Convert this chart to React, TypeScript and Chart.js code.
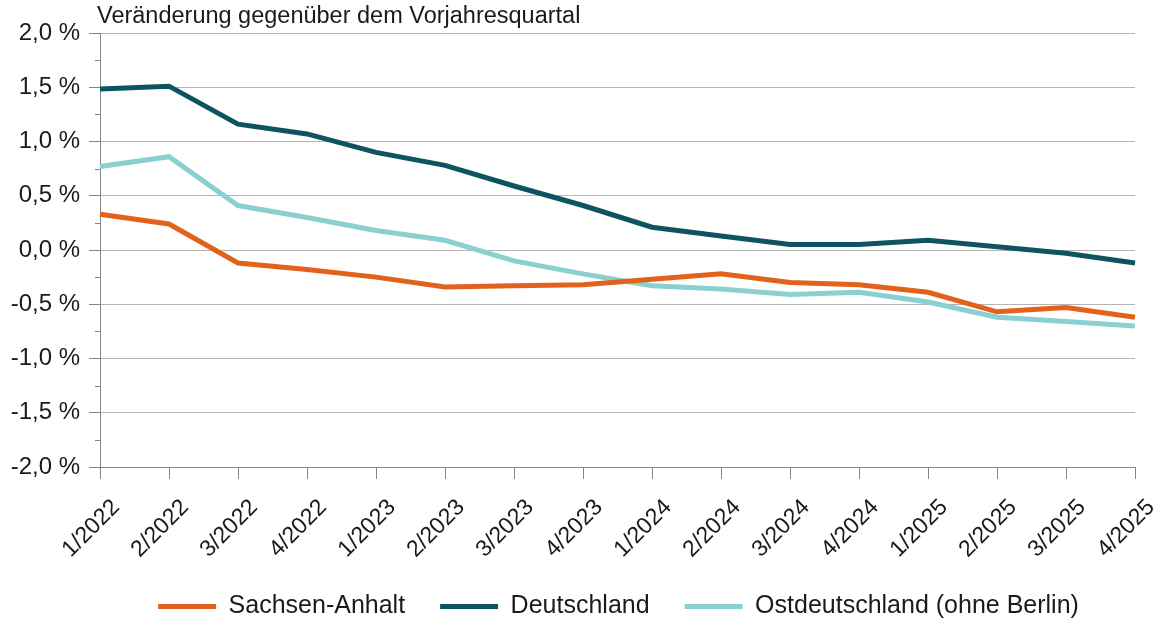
import React, { useEffect, useRef } from "react";
import { Chart, registerables } from "chart.js";

Chart.register(...registerables);

const categories = [
  "1/2022", "2/2022", "3/2022", "4/2022",
  "1/2023", "2/2023", "3/2023", "4/2023",
  "1/2024", "2/2024", "3/2024", "4/2024",
  "1/2025", "2/2025", "3/2025", "4/2025",
];

const sachsenAnhalt = [0.33, 0.24, -0.12, -0.18, -0.25, -0.34, -0.33, -0.32, -0.27, -0.22, -0.30, -0.32, -0.39, -0.57, -0.53, -0.62];
const deutschland = [1.485, 1.51, 1.16, 1.07, 0.90, 0.78, 0.59, 0.41, 0.21, 0.13, 0.05, 0.05, 0.09, 0.03, -0.03, -0.12];
const ostdeutschland = [0.77, 0.86, 0.41, 0.30, 0.18, 0.09, -0.10, -0.22, -0.33, -0.36, -0.41, -0.39, -0.48, -0.62, -0.66, -0.70];

const seriesNames = ["Sachsen-Anhalt", "Deutschland", "Ostdeutschland (ohne Berlin)"];
const titleText = "Veränderung gegenüber dem Vorjahresquartal";

const FONT = "'Liberation Sans', Arial, sans-serif";
const GRID = "#b4b4b4";
const AXIS = "#868686";

const isMajor = (v: number) => Math.abs(v * 2 - Math.round(v * 2)) < 1e-6;

const extrasPlugin = {
  id: "extras",
  afterLayout(chart: any) {
    const lg = chart.legend;
    if (lg) {
      lg.left += 51;
      lg.right += 51;
    }
  },
  afterDraw(chart: any) {
    const { ctx, chartArea } = chart;
    const y = chart.scales.y;
    ctx.save();
    ctx.strokeStyle = AXIS;
    ctx.lineWidth = 1;
    y.ticks.forEach((t: any) => {
      if (!isMajor(t.value)) {
        const py = Math.round(y.getPixelForValue(t.value)) + 0.5;
        ctx.beginPath();
        ctx.moveTo(chartArea.left - 5, py);
        ctx.lineTo(chartArea.left, py);
        ctx.stroke();
      }
    });
    ctx.fillStyle = "#1a1a1a";
    ctx.font = `23.5px ${FONT}`;
    ctx.textAlign = "left";
    ctx.textBaseline = "middle";
    ctx.fillText(titleText, chartArea.left - 3, 17);
    ctx.restore();
  },
};

export default function App() {
  const ref = useRef<HTMLCanvasElement | null>(null);

  useEffect(() => {
    document.body.style.margin = "0";
    const canvas = ref.current;
    if (!canvas) return;
    const chart = new Chart(canvas, {
      type: "line",
      data: {
        labels: categories,
        datasets: [
          { label: seriesNames[0], data: sachsenAnhalt, borderColor: "#E2621B", backgroundColor: "#E2621B", borderWidth: 5, pointRadius: 0, tension: 0 },
          { label: seriesNames[1], data: deutschland, borderColor: "#0D5460", backgroundColor: "#0D5460", borderWidth: 5, pointRadius: 0, tension: 0 },
          { label: seriesNames[2], data: ostdeutschland, borderColor: "#8AD0D0", backgroundColor: "#8AD0D0", borderWidth: 5, pointRadius: 0, tension: 0 },
        ],
      },
      options: {
        animation: false,
        responsive: false,
        layout: { padding: { top: 33, right: 23, bottom: -3, left: 0 } },
        plugins: {
          tooltip: { enabled: false },
          legend: {
            position: "bottom",
            labels: {
              usePointStyle: true,
              pointStyle: "line",
              pointStyleWidth: 58,
              padding: 35,
              color: "#1a1a1a",
              font: { family: FONT, size: 25 },
            },
          },
        },
        scales: {
          x: {
            offset: false,
            grid: { drawOnChartArea: false, drawTicks: true, tickLength: 12, color: AXIS, tickColor: AXIS },
            border: { display: true, color: AXIS, width: 1 },
            ticks: {
              autoSkip: false,
              maxRotation: 45,
              minRotation: 45,
              color: "#1a1a1a",
              font: { family: FONT, size: 23 },
              padding: 15,
              labelOffset: 16,
            },
            afterFit: (s: any) => {
              s.height = 92;
              s.paddingLeft = 0;
              s.paddingRight = 0;
            },
          },
          y: {
            min: -2,
            max: 2,
            grid: {
              color: (c: any) => (isMajor(c.tick.value) ? GRID : "rgba(0,0,0,0)"),
              tickColor: (c: any) => (isMajor(c.tick.value) ? AXIS : "rgba(0,0,0,0)"),
              tickLength: 11,
            },
            border: { display: true, color: AXIS, width: 1 },
            ticks: {
              stepSize: 0.25,
              autoSkip: false,
              padding: 9,
              color: "#1a1a1a",
              font: { family: FONT, size: 24 },
              callback: (v: any) => (isMajor(Number(v)) ? Number(v).toFixed(1).replace(".", ",") + " %" : ""),
            },
            afterFit: (s: any) => { s.width = 100; },
          },
        },
      },
      plugins: [extrasPlugin],
    });
    return () => chart.destroy();
  }, []);

  return (
    <div style={{ width: 1158, height: 626, background: "#fff" }}>
      <canvas ref={ref} width={1158} height={626} />
    </div>
  );
}
